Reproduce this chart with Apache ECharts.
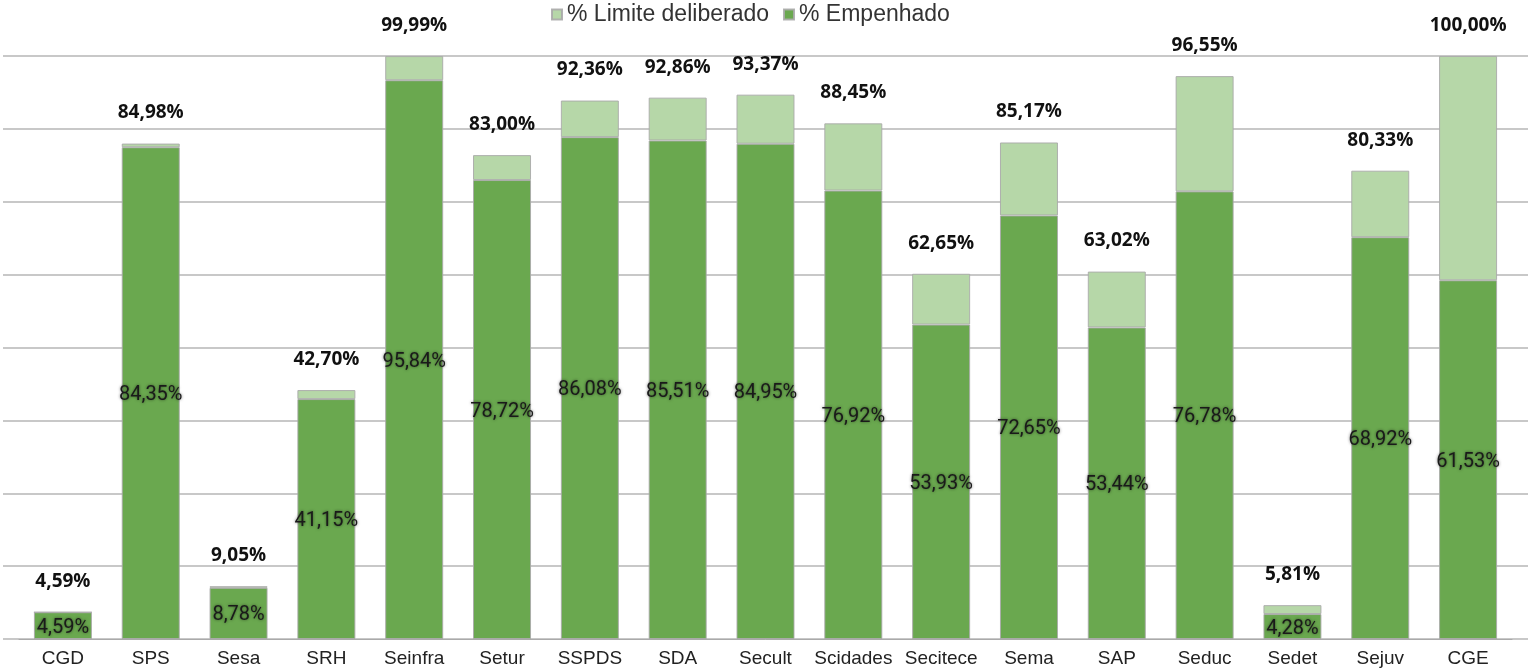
<!DOCTYPE html>
<html><head><meta charset="utf-8">
<script src="https://cdn.jsdelivr.net/npm/echarts@6/dist/echarts.min.js"></script>
<style>html,body{margin:0;padding:0;background:#fff}#c{width:1536px;height:670px}</style>
</head><body><div id="c"></div>
<script>
const categories = ['CGD','SPS','Sesa','SRH','Seinfra','Setur','SSPDS','SDA','Secult','Scidades','Secitece','Sema','SAP','Seduc','Sedet','Sejuv','CGE'];
const limiteDeliberado = [4.59,84.98,9.05,42.70,99.99,83.00,92.36,92.86,93.37,88.45,62.65,85.17,63.02,96.55,5.81,80.33,100.00];
const empenhado = [4.59,84.35,8.78,41.15,95.84,78.72,86.08,85.51,84.95,76.92,53.93,72.65,53.44,76.78,4.28,68.92,61.53];
const yTicks = [0,12.5,25,37.5,50,62.5,75,87.5,100];

const fmt = v => v.toFixed(2).replace('.', ',') + '%';
const diff = limiteDeliberado.map((v,i) => +(v - empenhado[i]).toFixed(2));

const chart = echarts.init(document.getElementById('c'));
chart.setOption({
  animation:false,
  textStyle:{fontFamily:'Roboto'},
  legend:{
    top:-2, left:546,
    data:['% Limite deliberado','% Empenhado'],
    icon:'rect', itemWidth:10, itemHeight:10, itemGap:14,
    textStyle:{fontSize:23,color:'#333',fontFamily:'Liberation Sans'}
  },
  grid:[
    {left:19,right:24,top:56,bottom:31},
    {left:3,right:8,top:56,bottom:31}
  ],
  xAxis:[
    {type:'category',gridIndex:0,data:categories,
     axisTick:{show:false},
     axisLine:{lineStyle:{color:'#aaa',width:1}},
     axisLabel:{fontSize:19,color:'#222',margin:10,interval:0,fontFamily:'Liberation Sans'}},
    {type:'category',gridIndex:1,data:categories,show:false}
  ],
  yAxis:[
    {type:'value',gridIndex:0,min:0,max:100,interval:12.5,show:false,splitLine:{show:false}},
    {type:'value',gridIndex:1,min:0,max:100,interval:12.5,
     axisLabel:{show:false},axisTick:{show:false},axisLine:{show:false},
     splitLine:{lineStyle:{color:'#c8c8c8',width:2}}}
  ],
  series:[
    {name:'% Empenhado',type:'bar',stack:'a',barWidth:58,z:3,
     data:empenhado,
     itemStyle:{color:'#6aa84f',borderColor:'rgba(170,170,170,0.9)',borderWidth:1},
     label:{show:true,position:'inside',offset:[0,2],fontSize:20,color:'#1a1a1a',
       textShadowColor:'rgba(0,0,0,0.55)',textShadowBlur:3,
       formatter:p=>fmt(p.value)}},
    {name:'% Limite deliberado',type:'bar',stack:'a',barWidth:58,z:3,
     data:diff,
     itemStyle:{color:'#b6d7a8',borderColor:'rgba(170,170,170,0.9)',borderWidth:1},
     label:{show:true,position:'top',distance:21,fontSize:19,fontWeight:'bold',color:'#111',
       fontFamily:'Open Sans',
       formatter:p=>fmt(limiteDeliberado[p.dataIndex])}}
  ]
});
</script></body></html>
